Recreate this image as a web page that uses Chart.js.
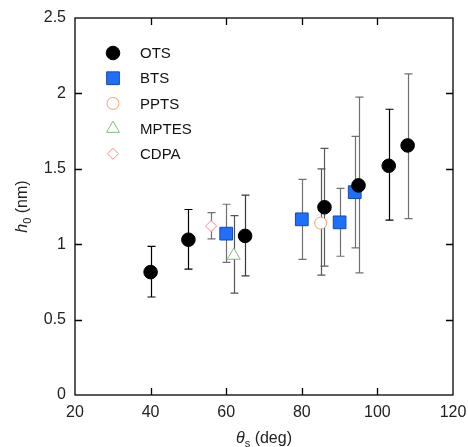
<!DOCTYPE html>
<html lang="en">
<head>
    <meta charset="UTF-8">
    <title>h0 vs theta_s</title>
    <script src="https://cdn.jsdelivr.net/npm/chart.js"></script>
    <style>
        * {
            padding: 0;
            margin: 0;
        }
        body {
            background-color: #ffffff;
        }
        .chart-container {
            position: relative;
            width: 468px;
            height: 447px;
        }
    </style>
</head>
<body>
    <div class="chart-container">
        <canvas id="myChart"></canvas>
    </div>
    <script>
        // contact angle (deg) and h0 (nm), with lower / upper error limits
        const otsX  = [40, 50, 65, 86, 95, 103, 108];
        const otsY  = [0.815, 1.03, 1.055, 1.245, 1.39, 1.52, 1.655];
        const otsLo = [0.65, 0.835, 0.79, 0.855, 0.81, 1.16, 1.17];
        const otsHi = [0.985, 1.23, 1.325, 1.635, 1.975, 1.895, 2.13];

        const btsX  = [60, 80, 90, 94];
        const btsY  = [1.07, 1.165, 1.145, 1.345];
        const btsLo = [0.88, 0.90, 0.92, 0.975];
        const btsHi = [1.265, 1.43, 1.37, 1.715];

        const pptsX  = [85];
        const pptsY  = [1.14];
        const pptsLo = [0.795];
        const pptsHi = [1.50];

        const mptesX  = [62];
        const mptesY  = [0.925];
        const mptesLo = [0.675];
        const mptesHi = [1.19];

        const cdpaX  = [56];
        const cdpaY  = [1.12];
        const cdpaLo = [1.035];
        const cdpaHi = [1.21];

        const xTicks = [20, 40, 60, 80, 100, 120];
        const yTicks = [0, 0.5, 1, 1.5, 2, 2.5];

        const FONT = "'Liberation Sans', Arial, sans-serif";

        function points(xs, ys, lo, hi) {
            return xs.map((x, i) => ({ x: x, y: ys[i], lo: lo[i], hi: hi[i] }));
        }

        const datasets = [
            {
                label: 'OTS',
                data: points(otsX, otsY, otsLo, otsHi),
                pointStyle: 'circle',
                pointRadius: 6.8,
                backgroundColor: '#000000',
                borderColor: '#000000',
                borderWidth: 1,
                errColor: ['#000000', '#000000', '#3a3a3a', '#5a5a5a', '#707070', '#000000', '#707070']
            },
            {
                label: 'BTS',
                data: points(btsX, btsY, btsLo, btsHi),
                pointStyle: 'rect',
                pointRadius: 9,
                backgroundColor: '#1f6fff',
                borderColor: '#1848a8',
                borderWidth: 1,
                errColor: '#707070'
            },
            {
                label: 'PPTS',
                data: points(pptsX, pptsY, pptsLo, pptsHi),
                pointStyle: 'circle',
                pointRadius: 6,
                backgroundColor: '#ffffff',
                borderColor: '#f5a070',
                borderWidth: 1,
                errColor: '#555555'
            },
            {
                label: 'MPTES',
                data: points(mptesX, mptesY, mptesLo, mptesHi),
                pointStyle: 'triangle',
                pointRadius: 7.5,
                backgroundColor: '#ffffff',
                borderColor: '#80bb80',
                borderWidth: 1,
                errColor: '#555555'
            },
            {
                label: 'CDPA',
                data: points(cdpaX, cdpaY, cdpaLo, cdpaHi),
                pointStyle: 'rectRot',
                pointRadius: 5.5,
                backgroundColor: '#ffffff',
                borderColor: '#f08a8a',
                borderWidth: 1,
                errColor: '#707070'
            }
        ];

        // vertical error bars with caps, under the markers
        const errorBars = {
            id: 'errorBars',
            beforeDatasetsDraw(chart) {
                const ctx = chart.ctx;
                const xs = chart.scales.x, ys = chart.scales.y;
                ctx.save();
                ctx.lineWidth = 1.2;
                chart.data.datasets.forEach(ds => {
                    ds.data.forEach((p, i) => {
                        const px = Math.round(xs.getPixelForValue(p.x)) + 0.5;
                        const top = ys.getPixelForValue(p.hi);
                        const bot = ys.getPixelForValue(p.lo);
                        ctx.strokeStyle = Array.isArray(ds.errColor) ? ds.errColor[i] : ds.errColor;
                        ctx.beginPath();
                        ctx.moveTo(px, top);
                        ctx.lineTo(px, bot);
                        ctx.moveTo(px - 4, top);
                        ctx.lineTo(px + 4, top);
                        ctx.moveTo(px - 4, bot);
                        ctx.lineTo(px + 4, bot);
                        ctx.stroke();
                    });
                });
                ctx.restore();
            }
        };

        // box frame with inward ticks on all four sides, axis titles, legend
        const frame = {
            id: 'frame',
            afterDraw(chart) {
                const ctx = chart.ctx;
                const a = chart.chartArea;
                const xs = chart.scales.x, ys = chart.scales.y;
                const len = 7;
                ctx.save();
                ctx.strokeStyle = '#000000';
                ctx.lineWidth = 1.3;
                ctx.strokeRect(a.left, a.top, a.right - a.left, a.bottom - a.top);
                ctx.beginPath();
                xTicks.slice(1, -1).forEach(v => {
                    const px = Math.round(xs.getPixelForValue(v)) + 0.5;
                    ctx.moveTo(px, a.bottom);
                    ctx.lineTo(px, a.bottom - len);
                    ctx.moveTo(px, a.top);
                    ctx.lineTo(px, a.top + len);
                });
                yTicks.slice(1, -1).forEach(v => {
                    const py = Math.round(ys.getPixelForValue(v)) + 0.5;
                    ctx.moveTo(a.left, py);
                    ctx.lineTo(a.left + len, py);
                    ctx.moveTo(a.right, py);
                    ctx.lineTo(a.right - len, py);
                });
                ctx.stroke();

                // x title: theta_s (deg)
                ctx.fillStyle = '#222222';
                ctx.textBaseline = 'alphabetic';
                const cx = (a.left + a.right) / 2;
                const ty = 443;
                ctx.font = 'italic 16px ' + FONT;
                const wTheta = ctx.measureText('\u03b8').width;
                ctx.font = '11px ' + FONT;
                const wSub = ctx.measureText('s').width;
                ctx.font = '16px ' + FONT;
                const wRest = ctx.measureText(' (deg)').width;
                let sx = cx - (wTheta + wSub + wRest) / 2;
                ctx.textAlign = 'left';
                ctx.font = 'italic 16px ' + FONT;
                ctx.fillText('\u03b8', sx, ty);
                ctx.font = '11px ' + FONT;
                ctx.fillText('s', sx + wTheta, ty + 4);
                ctx.font = '16px ' + FONT;
                ctx.fillText(' (deg)', sx + wTheta + wSub, ty);

                // y title: h_0 (nm)
                ctx.save();
                ctx.translate(27, (a.top + a.bottom) / 2);
                ctx.rotate(-Math.PI / 2);
                ctx.font = 'italic 16px ' + FONT;
                const wH = ctx.measureText('h').width;
                ctx.font = '11px ' + FONT;
                const wZ = ctx.measureText('0').width;
                ctx.font = '16px ' + FONT;
                const wNm = ctx.measureText(' (nm)').width;
                sx = -(wH + wZ + wNm) / 2;
                ctx.font = 'italic 16px ' + FONT;
                ctx.fillText('h', sx, 0);
                ctx.font = '11px ' + FONT;
                ctx.fillText('0', sx + wH, 4);
                ctx.font = '16px ' + FONT;
                ctx.fillText(' (nm)', sx + wH + wZ, 0);
                ctx.restore();

                // legend inside the plot area
                const lx = 113, ly0 = 53, step = 25.2;
                chart.data.datasets.forEach((ds, i) => {
                    const y = ly0 + i * step;
                    ctx.fillStyle = ds.backgroundColor;
                    ctx.strokeStyle = ds.borderColor;
                    ctx.lineWidth = ds.borderWidth;
                    Chart.helpers.drawPoint(ctx, {
                        pointStyle: ds.pointStyle,
                        radius: ds.pointRadius,
                        rotation: 0,
                        borderWidth: ds.borderWidth
                    }, lx, y);
                    ctx.fillStyle = '#111111';
                    ctx.font = '15px ' + FONT;
                    ctx.textAlign = 'left';
                    ctx.textBaseline = 'middle';
                    ctx.fillText(ds.label, 140, y + 1);
                });
                ctx.restore();
            }
        };

        const ctx = document.getElementById('myChart').getContext('2d');
        new Chart(ctx, {
            type: 'scatter',
            data: { datasets: datasets },
            plugins: [errorBars, frame],
            options: {
                responsive: true,
                maintainAspectRatio: false,
                animation: false,
                layout: { padding: { top: 18, right: 15, left: 0, bottom: 0 } },
                plugins: {
                    legend: { display: false },
                    tooltip: { enabled: false }
                },
                scales: {
                    x: {
                        type: 'linear',
                        min: 20,
                        max: 120,
                        afterFit: s => { s.height = 52; s.paddingLeft = 0; s.paddingRight = 0; },
                        afterBuildTicks: s => { s.ticks = xTicks.map(v => ({ value: v })); },
                        grid: { display: false, drawTicks: false },
                        border: { display: false },
                        ticks: {
                            padding: 8,
                            color: '#222222',
                            font: { family: FONT, size: 16 },
                            maxRotation: 0
                        }
                    },
                    y: {
                        type: 'linear',
                        min: 0,
                        max: 2.5,
                        afterFit: s => { s.width = 75; s.paddingTop = 0; s.paddingBottom = 0; },
                        afterBuildTicks: s => { s.ticks = yTicks.map(v => ({ value: v })); },
                        grid: { display: false, drawTicks: false },
                        border: { display: false },
                        ticks: {
                            padding: 9,
                            color: '#222222',
                            font: { family: FONT, size: 16 },
                            callback: v => String(v)
                        }
                    }
                }
            }
        });
    </script>
</body>
</html>
